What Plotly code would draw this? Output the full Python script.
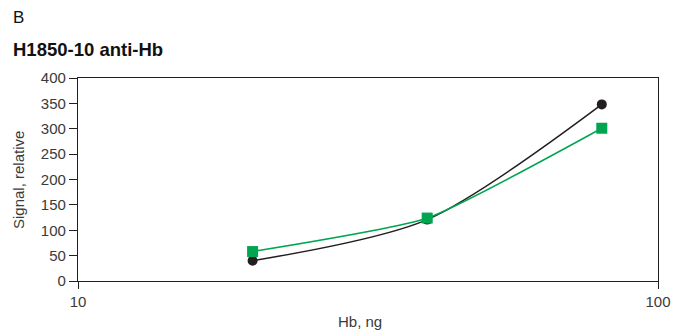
import plotly.graph_objects as go

# Hb amount (ng) and relative signal for the two series
hb_ng = [20, 40, 80]
signal_black = [40, 121, 348]
signal_green = [58, 124, 301]

y_ticks = [0, 50, 100, 150, 200, 250, 300, 350, 400]
x_ticks = [10, 100]

W, H = 674, 330
ML, MR, MT, MB = 78, 16, 78, 49
PW, PH = W - ML - MR, H - MT - MB

FAMILY = "Liberation Sans, Arial, sans-serif"
axis_font = dict(family=FAMILY, size=15, color="#3a3a3a")


def px_x(x):
    return (x - ML) / PW


def px_y(y):
    return 1 + (MT - y) / PH


fig = go.Figure()
fig.add_trace(go.Scatter(
    x=hb_ng, y=signal_black, mode="lines+markers",
    line=dict(color="#231f20", width=1.5, shape="spline", smoothing=0.8),
    marker=dict(symbol="circle", size=10, color="#231f20"),
    showlegend=False,
))
fig.add_trace(go.Scatter(
    x=hb_ng, y=signal_green, mode="lines+markers",
    line=dict(color="#00a551", width=1.5, shape="spline", smoothing=0.5),
    marker=dict(symbol="square", size=11, color="#00a551"),
    showlegend=False,
))

fig.update_layout(
    width=W, height=H,
    margin=dict(l=ML, r=MR, t=MT, b=MB),
    paper_bgcolor="white", plot_bgcolor="white",
    font=axis_font,
    xaxis=dict(
        type="log", range=[1, 2], tickvals=x_ticks, ticktext=[str(v) for v in x_ticks],
        showgrid=False, zeroline=False, showline=True, linecolor="#231f20", linewidth=1.2,
        mirror=True, ticks="outside", ticklen=7, tickcolor="#231f20",
        tickfont=axis_font, automargin=False,
    ),
    yaxis=dict(
        range=[0, 400], tickvals=y_ticks,
        showgrid=False, zeroline=False, showline=True, linecolor="#231f20", linewidth=1.2,
        mirror=True, ticks="outside", ticklen=8, tickcolor="#231f20",
        tickfont=axis_font, automargin=False,
    ),
    annotations=[
        dict(text="B", x=px_x(11), y=px_y(18), xref="paper", yref="paper", showarrow=False,
             xanchor="left", yanchor="middle",
             font=dict(family=FAMILY, size=17, color="#111")),
        dict(text="<b>H1850-10 anti-Hb</b>", x=px_x(11), y=px_y(50), xref="paper", yref="paper",
             showarrow=False, xanchor="left", yanchor="middle",
             font=dict(family=FAMILY, size=18.5, color="#111")),
        dict(text="Hb, ng", x=px_x(360), y=px_y(321), xref="paper", yref="paper",
             showarrow=False, xanchor="center", yanchor="middle", font=axis_font),
        dict(text="Signal, relative", x=px_x(18), y=px_y(180), xref="paper", yref="paper",
             showarrow=False, xanchor="center", yanchor="middle", textangle=-90, font=axis_font),
    ],
)

fig.write_html("out.html")
